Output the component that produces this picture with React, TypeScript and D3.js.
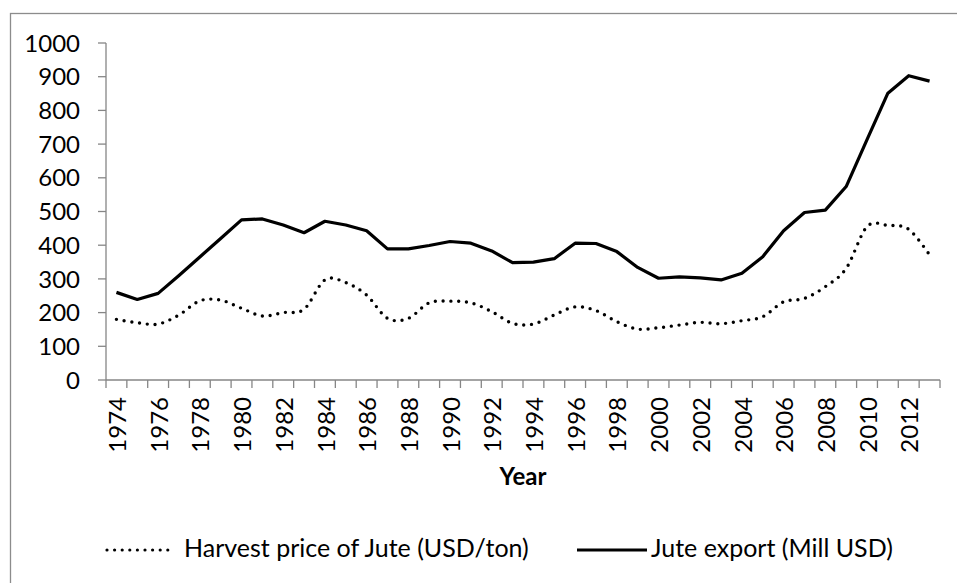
import React, { useEffect, useRef } from 'react';
import * as d3 from 'd3';

// categories (x axis)
const years = [
  1974, 1975, 1976, 1977, 1978, 1979, 1980, 1981, 1982, 1983,
  1984, 1985, 1986, 1987, 1988, 1989, 1990, 1991, 1992, 1993,
  1994, 1995, 1996, 1997, 1998, 1999, 2000, 2001, 2002, 2003,
  2004, 2005, 2006, 2007, 2008, 2009, 2010, 2011, 2012, 2013,
];

// Jute export (Mill USD)
const exportValues = [
  260, 239, 257, 310, 365, 420, 475, 478, 460, 437,
  471, 460, 443, 389, 389, 399, 411, 406, 383, 348,
  350, 360, 406, 405, 381, 334, 302, 306, 303, 297,
  317, 366, 443, 497, 504, 574, 713, 851, 903, 887,
];

// Harvest price of Jute (USD/ton)
const priceValues = [
  180, 170, 166, 193, 235, 237, 213, 190, 200, 210,
  297, 289, 252, 183, 183, 229, 234, 229, 203, 168,
  166, 193, 217, 206, 173, 151, 155, 163, 171, 167,
  176, 188, 232, 242, 277, 331, 455, 459, 447, 371,
];

const yTicks = [0, 100, 200, 300, 400, 500, 600, 700, 800, 900, 1000];

const priceLabel = 'Harvest price of Jute (USD/ton)';
const exportLabel = 'Jute export (Mill USD)';
const xTitle = 'Year';

const FONT = 'Lato, "Open Sans", sans-serif';
const AXIS_COLOR = '#868686';

const App = () => {
  const svgRef = useRef<SVGSVGElement | null>(null);

  useEffect(() => {
    if (!svgRef.current) return;
    const svg = d3.select(svgRef.current);
    svg.selectAll('*').remove();

    const width = 957;
    const height = 583;
    const plot = { left: 106, right: 940, top: 43, bottom: 380 };

    // outer chart border (runs off the right/bottom edges)
    svg.append('rect')
      .attr('x', 10.5)
      .attr('y', 13.5)
      .attr('width', width)
      .attr('height', height)
      .attr('fill', 'none')
      .attr('stroke', '#8c8c8c')
      .attr('stroke-width', 1.3);

    const x = d3.scaleBand<number>()
      .domain(years)
      .range([plot.left, plot.right]);

    const y = d3.scaleLinear()
      .domain([0, 1000])
      .range([plot.bottom, plot.top]);

    const cx = (d: number) => (x(d) as number) + x.bandwidth() / 2;

    // Y axis
    const yAxis = svg.append('g');
    yAxis.append('line')
      .attr('x1', plot.left).attr('x2', plot.left)
      .attr('y1', y(1000)).attr('y2', y(0))
      .attr('stroke', AXIS_COLOR).attr('stroke-width', 1.3);
    yAxis.selectAll('line.tick')
      .data(yTicks)
      .enter()
      .append('line')
      .attr('class', 'tick')
      .attr('x1', plot.left - 8).attr('x2', plot.left)
      .attr('y1', d => y(d)).attr('y2', d => y(d))
      .attr('stroke', AXIS_COLOR).attr('stroke-width', 1.3);
    yAxis.selectAll('text')
      .data(yTicks)
      .enter()
      .append('text')
      .attr('x', 80)
      .attr('y', d => y(d))
      .attr('dy', '0.36em')
      .attr('text-anchor', 'end')
      .attr('font-family', FONT)
      .attr('font-size', 24)
      .attr('fill', '#000')
      .text(d => d);

    // X axis
    const xAxis = svg.append('g');
    xAxis.append('line')
      .attr('x1', plot.left).attr('x2', plot.right)
      .attr('y1', plot.bottom).attr('y2', plot.bottom)
      .attr('stroke', AXIS_COLOR).attr('stroke-width', 1.3);
    const boundaries = years.map(d => x(d) as number).concat([plot.right]);
    xAxis.selectAll('line.tick')
      .data(boundaries)
      .enter()
      .append('line')
      .attr('class', 'tick')
      .attr('x1', d => d).attr('x2', d => d)
      .attr('y1', plot.bottom).attr('y2', plot.bottom + 8)
      .attr('stroke', AXIS_COLOR).attr('stroke-width', 1.3);
    xAxis.selectAll('text')
      .data(years.filter((d, i) => i % 2 === 0))
      .enter()
      .append('text')
      .attr('transform', d => `translate(${cx(d) + 1},397) rotate(-90)`)
      .attr('dy', '0.36em')
      .attr('text-anchor', 'end')
      .attr('font-family', FONT)
      .attr('font-size', 24)
      .attr('fill', '#000')
      .text(d => d);

    svg.append('text')
      .attr('x', (plot.left + plot.right) / 2)
      .attr('y', 485)
      .attr('text-anchor', 'middle')
      .attr('font-family', FONT)
      .attr('font-size', 24)
      .attr('font-weight', 'bold')
      .attr('fill', '#000')
      .text(xTitle);

    // lines
    const priceLine = d3.line<number>()
      .x((d, i) => cx(years[i]))
      .y(d => y(d))
      .curve(d3.curveCardinal);

    const exportLine = d3.line<number>()
      .x((d, i) => cx(years[i]))
      .y(d => y(d));

    svg.append('path')
      .datum(priceValues)
      .attr('fill', 'none')
      .attr('stroke', '#000')
      .attr('stroke-width', 3.4)
      .attr('stroke-linecap', 'round')
      .attr('stroke-dasharray', '0,7.8')
      .attr('d', priceLine);

    svg.append('path')
      .datum(exportValues)
      .attr('fill', 'none')
      .attr('stroke', '#000')
      .attr('stroke-width', 3.2)
      .attr('stroke-linejoin', 'round')
      .attr('d', exportLine);

    // legend
    const legend = svg.append('g');
    legend.append('line')
      .attr('x1', 107).attr('x2', 175)
      .attr('y1', 550).attr('y2', 550)
      .attr('stroke', '#000')
      .attr('stroke-width', 3.2)
      .attr('stroke-linecap', 'round')
      .attr('stroke-dasharray', '0,7.6');
    legend.append('text')
      .attr('x', 184)
      .attr('y', 557)
      .attr('font-family', FONT)
      .attr('font-size', 25)
      .attr('fill', '#000')
      .text(priceLabel);
    legend.append('line')
      .attr('x1', 577).attr('x2', 647)
      .attr('y1', 550).attr('y2', 550)
      .attr('stroke', '#000')
      .attr('stroke-width', 3.2);
    legend.append('text')
      .attr('x', 651)
      .attr('y', 557)
      .attr('font-family', FONT)
      .attr('font-size', 25)
      .attr('fill', '#000')
      .text(exportLabel);
  }, []);

  return (
    <svg
      ref={svgRef}
      width={957}
      height={583}
      style={{ position: 'absolute', left: 0, top: 0, background: '#fff' }}
    />
  );
};

export default App;
